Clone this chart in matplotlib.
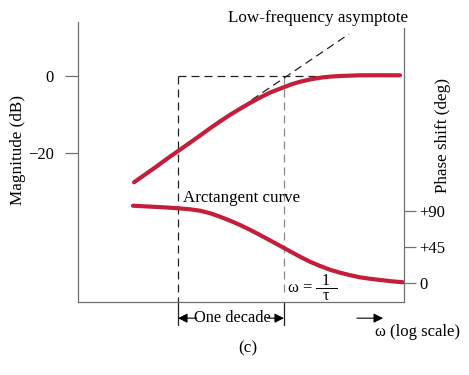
import numpy as np
import matplotlib
matplotlib.use("Agg")
import matplotlib.pyplot as plt

plt.rcParams["font.family"] = "Liberation Serif"

RED = "#C41E3A"
GRAY = "#707070"

# omega*tau (log axis) vs magnitude in dB
MAG_W = [0.0385, 0.0488, 0.0620, 0.0787, 0.1, 0.127, 0.161, 0.200, 0.249,
         0.309, 0.385, 0.478, 0.594, 0.738, 0.859, 1.0, 1.19, 1.416, 1.759,
         2.186, 2.716, 3.375, 4.194, 5.212, 8.05, 12.43]
MAG_DB = [-27.6, -25.6, -23.6, -21.5, -19.5, -17.5, -15.5, -13.6, -11.8,
          -10.1, -8.5, -7.0, -5.6, -4.3, -3.6, -2.9, -2.1, -1.5, -0.9,
          -0.45, -0.15, 0.0, 0.1, 0.18, 0.2, 0.18]

# omega*tau vs phase shift in degrees
PH_W = [0.0376, 0.0544, 0.0754, 0.1, 0.130, 0.161, 0.200, 0.249, 0.309,
        0.385, 0.478, 0.594, 0.738, 0.859, 1.0, 1.19, 1.416, 1.759, 2.186,
        2.716, 3.375, 4.194, 5.212, 6.476, 8.05, 10.44, 13.26]
PH_DEG = [96.6, 95.5, 94.5, 93.4, 92.1, 90.4, 87.3, 82.9, 78.0,
          72.5, 66.5, 60.0, 53.3, 48.5, 43.8, 38.3, 32.9, 26.6, 21.3,
          16.6, 12.9, 9.8, 7.1, 5.3, 3.8, 2.1, 0.9]

# low-frequency asymptote (dashed)
ASYM_W = [0.496, 4.1]
ASYM_DB = [-6.2, 10.9]

DECADE = [0.1, 1.0]      # one decade below the corner, and the corner 1/tau
FLAT_END = 2.2           # where the 0 dB dashed line stops

MAG_TICKS = [-20, 0]
MAG_LABELS = ["\u221220", "0"]
PH_TICKS = [0, 45, 90]
PH_LABELS = ["0", "+45", "+90"]

W, H = 469, 375
fig = plt.figure(figsize=(W / 100, H / 100), dpi=100)
ax = fig.add_axes([78 / W, 1 - 302 / H, 325.5 / W, 280 / H])
ax.set_xscale("log")
ax.set_xlim(0.01139, 13.41)
ax.set_ylim(-58.70, 14.03)
ax.patch.set_alpha(0)

ax2 = ax.twinx()
ax2.set_ylim(-23.75, 326.25)

for a in (ax, ax2):
    for s in a.spines.values():
        s.set_color(GRAY)
        s.set_linewidth(0.9)
    a.spines["top"].set_visible(False)
    a.tick_params(axis="x", which="both", bottom=False, top=False, labelbottom=False)
ax.spines["right"].set_visible(False)
ax2.spines["left"].set_visible(False)
ax2.spines["bottom"].set_visible(False)
ax2.spines["right"].set_bounds(-23.75, 318.75)

ax.set_yticks(MAG_TICKS)
ax.set_yticklabels(MAG_LABELS)
ax.tick_params(axis="y", direction="out", length=9.4, width=0.9, color=GRAY,
               pad=8, labelsize=12)
ax2.set_yticks(PH_TICKS)
ax2.set_yticklabels(PH_LABELS)
ax2.tick_params(axis="y", direction="out", length=8.6, width=0.9, color=GRAY,
                pad=2.5, labelsize=12)

ymin = ax.get_ylim()[0]
dash = dict(lw=0.9, dashes=(6.4, 4))
ax.plot([DECADE[0], DECADE[0]], [0, ymin], color="#222222", **dash)
ax.plot([DECADE[1], DECADE[1]], [0, -56], color="#888888", **dash)
ax.plot([DECADE[0], FLAT_END], [0, 0], color="#222222", **dash)
ax.plot(ASYM_W, ASYM_DB, color="#222222", **dash)

# decade markers below the axis
for w in DECADE:
    ax.plot([w, w], [ymin, -64.7], color="#222222", lw=0.9, clip_on=False)
arrow = dict(arrowstyle="-|>", color="black", lw=0.8, shrinkA=0, shrinkB=0,
             mutation_scale=14)
ax.annotate("", xy=(DECADE[0], -62.9), xytext=(0.150, -62.9), arrowprops=arrow,
            annotation_clip=False)
ax.annotate("", xy=(DECADE[1], -62.9), xytext=(0.700, -62.9), arrowprops=arrow,
            annotation_clip=False)
ax.text(0.327, -62.9, "One decade", ha="center", va="center", fontsize=11.8,
        clip_on=False)
ax.annotate("", xy=(8.6, -62.9), xytext=(4.88, -62.9), arrowprops=arrow,
            annotation_clip=False)
ax.text(7.23, -66.4, "\u03c9 (log scale)", ha="left", va="center", fontsize=12,
        clip_on=False)

ax.plot(MAG_W, MAG_DB, color=RED, lw=3, solid_capstyle="round",
        solid_joinstyle="round", zorder=3)
ax2.plot(PH_W, PH_DEG, color=RED, lw=3, solid_capstyle="round",
         solid_joinstyle="round", zorder=3)

fig.text(228 / W, 1 - 22.5 / H, "Low-frequency asymptote", ha="left",
         va="baseline", fontsize=12.3)
fig.text(183 / W, 1 - 202 / H, "Arctangent curve", ha="left", va="baseline",
         fontsize=12.2)

# omega = 1/tau label, fraction built from pieces
fig.text(288 / W, 1 - 292 / H, "\u03c9 =", ha="left", va="baseline", fontsize=12)
fig.text(326 / W, 1 - 285 / H, "1", ha="center", va="baseline", fontsize=11.5)
fig.text(326 / W, 1 - 300 / H, "\u03c4", ha="center", va="baseline", fontsize=11.5)
fig.add_artist(plt.Line2D([316 / W, 337 / W], [1 - 288 / H, 1 - 288 / H],
                          color="black", lw=0.7))

fig.text(247.5 / W, 1 - 348 / H, "(c)", ha="center", va="center", fontsize=12.3)
fig.text(18.5 / W, 1 - 150 / H, "Magnitude (dB)", rotation=90, ha="center",
         va="center", fontsize=12.3)
fig.text(443 / W, 1 - 135.5 / H, "Phase shift (deg)", rotation=90, ha="center",
         va="center", fontsize=12.3)

fig.savefig("out.png", dpi=100)
